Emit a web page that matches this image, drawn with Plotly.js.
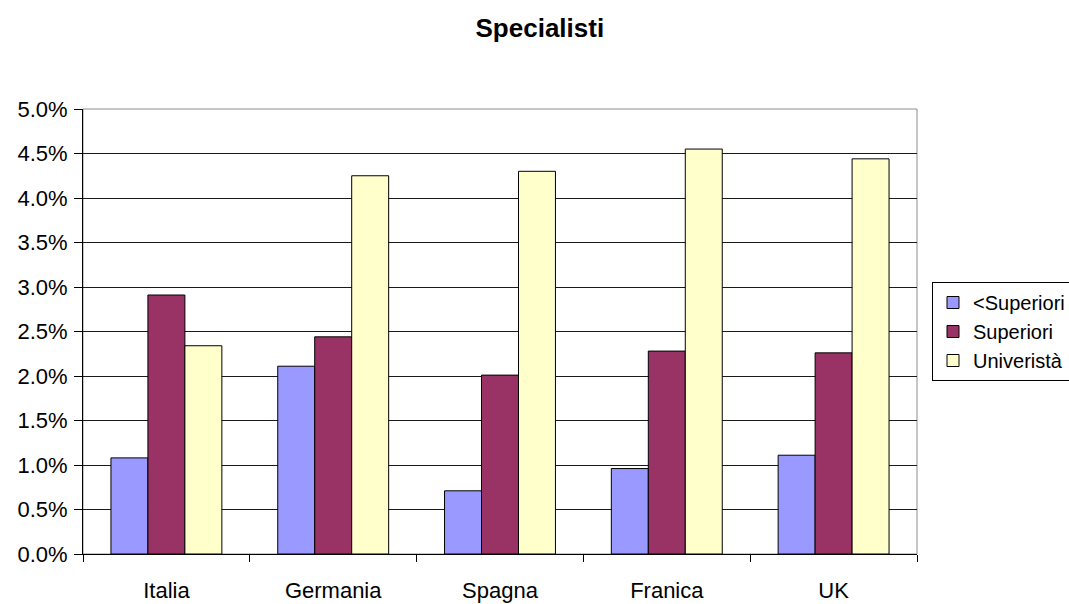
<!DOCTYPE html>
<html>
<head>
<meta charset="utf-8">
<script src="https://cdn.plot.ly/plotly-3.0.1.min.js"></script>
<style>
  html, body { margin: 0; padding: 0; background: #ffffff; }
  #chart { width: 1069px; height: 604px; }
</style>
</head>
<body>
<div id="chart"></div>
<script>
// Share of "specialisti" by education level, per country
const categories = ['Italia', 'Germania', 'Spagna', 'Franica', 'UK'];
const seriesNames = ['<Superiori', 'Superiori', 'Univeristà'];
const belowSecondary = [0.0108, 0.0211, 0.0071, 0.0096, 0.0111];
const secondary      = [0.0291, 0.0244, 0.0201, 0.0228, 0.0226];
const university     = [0.0234, 0.0425, 0.0430, 0.0455, 0.0444];
const yTickValues = [0, 0.005, 0.01, 0.015, 0.02, 0.025, 0.03, 0.035, 0.04, 0.045, 0.05];

const colors = ['#9999FF', '#993366', '#FFFFCC'];
const FONT = 'Liberation Sans, Arial, sans-serif';

const seriesValues = [belowSecondary, secondary, university];
const traces = seriesValues.map((vals, i) => ({
  type: 'bar',
  name: seriesNames[i],
  x: categories,
  y: vals,
  marker: { color: colors[i], line: { color: '#000000', width: 1 } },
  hoverinfo: 'x+y+name'
}));

const layout = {
  width: 1069,
  height: 604,
  paper_bgcolor: '#ffffff',
  plot_bgcolor: '#ffffff',
  margin: { l: 83, r: 152, t: 109, b: 50, pad: 0, autoexpand: false },
  font: { family: FONT, color: '#000000', size: 22 },
  title: {
    text: '<b>Specialisti</b>',
    font: { family: FONT, size: 26, color: '#000000' },
    xref: 'container', x: 0.505, xanchor: 'center',
    yref: 'container', y: 0.953, yanchor: 'middle'
  },
  barmode: 'group',
  bargap: 0.335,
  bargroupgap: 0,
  xaxis: {
    type: 'category',
    tickson: 'boundaries',
    ticks: 'outside',
    ticklen: 7,
    tickcolor: '#000000',
    showline: true,
    linecolor: '#000000',
    linewidth: 1,
    showgrid: false,
    ticklabelstandoff: 17,
    tickfont: { family: FONT, size: 22, color: '#000000' },
    fixedrange: true
  },
  yaxis: {
    range: [0, 0.05],
    tickvals: yTickValues,
    tickformat: '.1%',
    ticks: 'outside',
    ticklen: 8,
    tickcolor: '#000000',
    showline: true,
    linecolor: '#000000',
    linewidth: 1,
    showgrid: true,
    gridcolor: '#1a1a1a',
    gridwidth: 1,
    zeroline: false,
    ticklabelstandoff: 2,
    tickfont: { family: FONT, size: 22, color: '#000000' },
    fixedrange: true
  },
  shapes: [{
    type: 'rect', xref: 'paper', yref: 'paper',
    x0: 0, x1: 1, y0: 0, y1: 1,
    line: { color: '#8c8c8c', width: 1 },
    fillcolor: 'rgba(0,0,0,0)',
    layer: 'below'
  }],
  legend: {
    x: 1.018, xanchor: 'left',
    y: 0.5, yanchor: 'middle',
    bordercolor: '#000000',
    borderwidth: 1,
    bgcolor: '#ffffff',
    font: { family: FONT, size: 20, color: '#000000' },
    itemwidth: 30,
    tracegroupgap: 0
  },
  showlegend: true
};

Plotly.newPlot('chart', traces, layout, { displayModeBar: false, staticPlot: true });
</script>
</body>
</html>
